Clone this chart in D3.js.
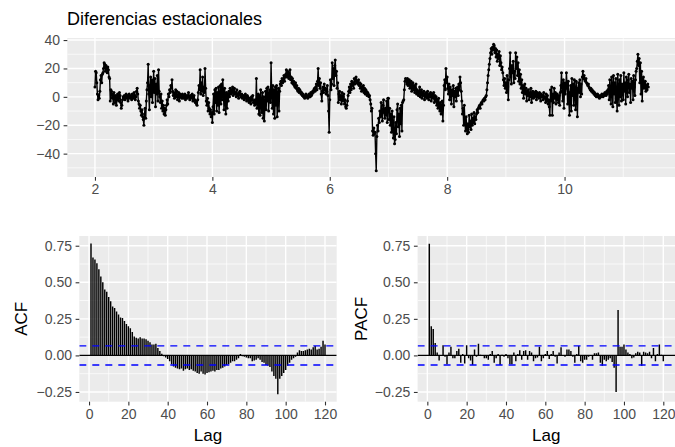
<!DOCTYPE html>
<html>
<head>
<meta charset="utf-8">
<script src="https://cdn.jsdelivr.net/npm/d3@7"></script>
<style>
  body { margin: 0; background: #ffffff; }
  svg { display: block; }
  text { font-family: "Liberation Sans", Arial, Helvetica, sans-serif; }
</style>
</head>
<body>
<svg id="chart" width="675" height="447"></svg>
<script>
// ---- data -------------------------------------------------------------
const titleText = "Diferencias estacionales";
const seriesStart = 2;
const seriesFrequency = 96;
const seriesValues = [
  7, 18, 17, 10, 2, -2, 1, -1, 4, 12, 15, 10, 16, 17, 20, 24, 23, 18, 22, 20, 17, 21, 19, 14,
  13, -3, 5, 4, -1, 2, -5, 3, 0, -4, 1, -6, -2, 2, 0, -3, 3, 1, -4, -8, -6, -2, 0, -1,
  1, -2, 0, 2, -1, 1, -3, 0, 2, -1, 0, 1, -2, 2, 0, -1, 3, 1, -2, 0, 4, 6, 2, -3,
  -5, -8, -6, -10, -13, -9, -14, -16, -20, -12, -8, -15, -3, 5, 10, 23, 2, -9, 8, 14, 0, 12, -4, 6,
  18, 3, 13, -7, 9, 2, 15, -3, 19, 4, 0, -4, 2, -8, -3, -10, -6, -12, -8, -13, -9, -6, -2, -5,
  2, 0, 5, 3, 8, 6, 12, 4, 1, 3, -1, 2, 5, 0, 4, -2, 1, 3, -3, 2, 0, 1, -1, 2,
  1, -1, 0, 2, -2, 1, 0, -1, 1, 3, 0, -2, 1, -1, 0, 2, -3, 0, 1, -2, -4, -3, -5, -6,
  -2, 3, 8, 5, 19, 2, 10, 4, 14, 1, 7, 3, 20, 6, -3, -6, -1, -10, -4, -8, -12, -9, -14, -11,
  -18, -7, 2, -12, 5, -4, 6, -10, 3, -6, 7, -11, 1, 8, -5, 9, -2, 12, 4, -9, 6, 0, -12, 3,
  -8, 2, -3, 4, 0, 6, 2, 5, 3, 7, 1, 4, 6, 2, 3, 0, 5, 1, 2, -1, 3, 4, 1, 0,
  2, -1, 0, 1, -2, 0, 2, -1, -3, 1, 0, -2, -4, -1, -3, -5, 0, -2, 1, -4, -3, -6, -2, -5,
  13, -8, -3, 2, -12, 1, -13, 5, -6, -11, 3, -15, 0, -17, -5, 4, -9, 6, -3, 7, -10, 2, 5, -4,
  24, 3, -8, 8, -12, 5, -15, 7, -6, 8, -14, 2, 6, -10, 4, 9, 11, 8, 13, 10, 12, 15, 11, 14,
  16, 19, 14, 18, 17, 13, 15, 19, 12, 14, 10, 13, 9, 11, 8, 7, 10, 6, 8, 5, 4, 6, 3, 5,
  4, 2, 3, 1, 2, 0, 1, -1, 0, 2, 0, 1, -1, 0, 2, 1, 0, 3, 1, 2, 4, 3, 5, 6,
  4, 7, 9, 5, 11, 20, 8, 13, 6, 10, 2, -3, 4, 7, 3, 9, 5, 6, 2, 4, 8, 1, -10, -25,
  -2, 12, 5, 9, 24, 13, 20, 8, 22, 26, 15, 18, 6, 10, -4, 2, 4, -2, 1, -5, 3, -3, 0, 2,
  -5, -2, -7, -8, -6, -3, 1, 4, 7, 3, 9, 5, 11, 8, 10, 6, 13, 9, 12, 14, 10, 11, 9, 12,
  8, 10, 6, 9, 4, 7, 5, 8, 3, 6, 2, 5, 4, 1, 3, 2, 0, 1, -2, -5, -10, -8, -24, -27,
  -22, -26, -25, -40, -52, -28, -20, -24, -15, -18, -10, -14, -4, -12, -17, -6, -2, -11, -15, -8, -13, -3, -18, -1,
  -1, -16, -8, -20, -12, -25, -10, -22, -29, -14, -33, -30, -18, -26, -9, -5, -21, -12, -28, -8, -19, -6, -24, -4,
  -3, -2, 5, 11, 13, 12, 9, 13, 8, 10, 12, 6, 9, 11, 4, 7, 10, 5, 8, 3, 6, 9, 2, 5,
  4, 1, 3, 7, 0, 2, 5, -1, 3, 1, 4, -2, 2, 0, 3, -1, 4, 1, -2, 2, 0, 3, -3, 1,
  2, -1, 3, -4, 1, -3, 0, -6, -2, -8, -1, -5, -10, -4, -12, -7, -3, -17, -6, 8, 12, 5, 20, 10,
  14, 6, 2, 9, -2, 7, 3, -5, 5, 1, 8, -7, 4, 0, 6, -3, 3, 7, 1, 9, 5, 14, 10, 4,
  -3, -12, -8, -20, -6, -18, -24, -14, -22, -26, -19, -25, -13, -21, -17, -23, -12, -20, -15, -18, -11, -19, -14, -16,
  -12, -9, -11, -8, -7, -6, -8, -5, -4, -5, -3, -2, -3, -1, -2, 0, 1, 5, 10, 15, 19, 23, 27, 31,
  34, 30, 35, 33, 37, 36, 31, 34, 28, 33, 25, 30, 27, 32, 22, 29, 24, 19, 21, 17, 12, 8, 13, 6,
  10, 3, 15, 7, -2, 12, 20, 31, 14, 9, 22, 17, 25, 10, 18, 13, 31, 20, 28, 15, 24, 11, 19, 9,
  16, 6, 12, 3, 8, -1, 5, 9, 2, 6, -3, 4, 1, 5, -2, 3, 0, 6, -4, 2, 4, -1, 3, 0,
  1, 4, -2, 3, 0, 2, -1, 3, 1, -3, 2, 0, 1, -2, 3, -1, 0, -4, 2, -3, 1, -5, -2, -7,
  -13, 5, -3, 7, -13, 2, -4, 6, -1, 3, -5, 0, 2, -2, -4, 1, -6, 3, 8, 17, 4, -3, 12, -8,
  10, 2, 6, 17, 9, -5, 11, -2, -13, 3, 8, -10, 13, 1, 9, -6, 12, 4, -9, 11, 2, -14, 6, 10,
  3, 12, 0, 9, 2, 14, 18, 13, 15, 12, 11, 13, 10, 9, 8, 9, 7, 6, 5, 6, 4, 5, 3, 4,
  2, 3, 1, 2, 0, 1, 2, 0, 1, -1, 0, 1, 0, 2, 1, 0, 2, 1, 3, 2, 1, 4, 2, 5,
  8, -2, 12, 3, -5, 14, 6, -7, 15, 2, 10, -4, 13, -1, -10, 16, 4, -6, 12, 0, 15, -3, 9, 5,
  -2, 17, 4, 10, -5, 14, 8, 0, 12, 16, 3, 9, -4, 13, 6, 11, -2, 15, 7, 1, 12, 18, 20, 25,
  30, 22, 27, 10, 24, 2, 18, -3, 12, 14, 6, 9, 11, 4, 8, 5, 9, 7
];

// autocorrelations for lags 1..120
const acfValues = [
  0.765, 0.67, 0.655, 0.63, 0.59, 0.54, 0.50, 0.45, 0.435, 0.40,
  0.37, 0.335, 0.325, 0.30, 0.28, 0.26, 0.255, 0.235, 0.215, 0.20,
  0.185, 0.16, 0.13, 0.12, 0.115, 0.125, 0.115, 0.115, 0.11, 0.10,
  0.09, 0.075, 0.075, 0.08, 0.05, 0.03, 0.012, -0.005, -0.015, -0.025,
  -0.04, -0.06, -0.075, -0.085, -0.09, -0.095, -0.09, -0.105, -0.095, -0.09,
  -0.10, -0.095, -0.105, -0.11, -0.12, -0.125, -0.11, -0.125, -0.13, -0.12,
  -0.115, -0.11, -0.105, -0.11, -0.10, -0.10, -0.09, -0.085, -0.075, -0.065,
  -0.06, -0.05, -0.04, -0.04, -0.03, -0.02, 0.01, -0.005, -0.01, -0.015,
  -0.02, -0.02, -0.04, -0.035, -0.03, -0.02, -0.03, -0.045, -0.05, -0.065,
  -0.07, -0.08, -0.11, -0.14, -0.16, -0.265, -0.16, -0.14, -0.12, -0.10,
  -0.07, -0.05, -0.03, -0.02, -0.01, 0.02, 0.035, 0.03, 0.03, 0.035,
  0.04, 0.045, 0.04, 0.055, 0.065, 0.04, 0.045, 0.06, 0.10, 0.075
];

// partial autocorrelations for lags 1..120
const pacfValues = [
  0.764, 0.20, 0.18, 0.085, 0.02, -0.035, 0.0, 0.07, -0.01, -0.06,
  0.02, 0.06, -0.02, -0.02, 0.03, 0.045, -0.05, 0.01, -0.055, 0.07,
  -0.02, -0.035, -0.065, 0.04, -0.01, 0.08, 0.005, 0.0, -0.02, -0.02,
  -0.03, 0.01, 0.03, -0.05, -0.02, 0.01, -0.065, 0.005, -0.01, 0.01,
  -0.02, -0.06, -0.06, 0.02, -0.04, 0.01, 0.035, -0.03, 0.03, 0.035,
  -0.03, 0.03, 0.02, -0.04, -0.02, -0.015, 0.06, -0.04, -0.02, 0.01,
  0.03, -0.025, 0.01, 0.03, -0.01, -0.055, 0.02, 0.055, 0.0, -0.01,
  0.04, 0.04, 0.03, -0.01, -0.05, 0.01, 0.065, -0.04, -0.05, -0.03,
  -0.03, -0.01, 0.0, -0.03, 0.015, 0.015, 0.02, -0.05, -0.07, -0.03,
  -0.04, -0.03, -0.02, -0.045, -0.085, -0.25, 0.31, 0.06, 0.06, 0.075,
  0.04, 0.02, 0.01, -0.02, -0.015, 0.015, 0.025, 0.02, -0.07, 0.025,
  0.02, 0.015, 0.025, -0.02, 0.05, -0.04, 0.01, 0.075, 0.005, -0.04
];

const timeTicks = [2, 4, 6, 8, 10];
const valueTicks = [-40, -20, 0, 20, 40];
const lagTicks = [0, 20, 40, 60, 80, 100, 120];
const corrTicks = [-0.25, 0, 0.25, 0.5, 0.75];
const acfTitle = "ACF";
const pacfTitle = "PACF";
const lagTitle = "Lag";

// ---- layout / style ----------------------------------------------------
const svg = d3.select("#chart");
const panelFill = "#EBEBEB";
const tickColor = "#333333";
const labelColor = "#4D4D4D";
const tickFont = 14;
const axisTitleFont = 17;

const topBox  = { x0: 67.3, x1: 676,   y0: 38,  y1: 177 };
const acfBox  = { x0: 79.3, x1: 336.7, y0: 236, y1: 401.7 };
const pacfBox = { x0: 417.6, x1: 675,  y0: 236, y1: 401.7 };

// 5% padding on each side of a continuous range
function expand(ext) {
  const pad = (ext[1] - ext[0]) * 0.05;
  return [ext[0] - pad, ext[1] + pad];
}

// midpoints between major breaks, plus one step beyond each end, kept inside the limits
function minorBreaks(major, domain) {
  const step = major[1] - major[0];
  const out = [];
  for (let v = major[0] - step / 2; v <= major[major.length - 1] + step / 2 + 1e-9; v += step) {
    if (v >= domain[0] && v <= domain[1]) out.push(v);
  }
  return out;
}

let clipCount = 0;
function drawPanel(box, xDomain, yDomain, xTicks, yTicks, xFmt, yFmt) {
  const x = d3.scaleLinear().domain(xDomain).range([box.x0, box.x1]);
  const y = d3.scaleLinear().domain(yDomain).range([box.y1, box.y0]);
  const g = svg.append("g");

  const clipId = "clip" + (clipCount++);
  svg.append("clipPath").attr("id", clipId)
    .append("rect")
    .attr("x", box.x0).attr("y", box.y0)
    .attr("width", box.x1 - box.x0).attr("height", box.y1 - box.y0);

  g.append("rect")
    .attr("x", box.x0).attr("y", box.y0)
    .attr("width", box.x1 - box.x0).attr("height", box.y1 - box.y0)
    .attr("fill", panelFill);

  const grid = g.append("g").attr("clip-path", `url(#${clipId})`);
  grid.selectAll("line.minx").data(minorBreaks(xTicks, xDomain)).join("line")
    .attr("x1", d => x(d)).attr("x2", d => x(d))
    .attr("y1", box.y0).attr("y2", box.y1)
    .attr("stroke", "#fff").attr("stroke-width", 0.7);
  grid.selectAll("line.miny").data(minorBreaks(yTicks, yDomain)).join("line")
    .attr("y1", d => y(d)).attr("y2", d => y(d))
    .attr("x1", box.x0).attr("x2", box.x1)
    .attr("stroke", "#fff").attr("stroke-width", 0.7);
  grid.selectAll("line.majx").data(xTicks).join("line")
    .attr("x1", d => x(d)).attr("x2", d => x(d))
    .attr("y1", box.y0).attr("y2", box.y1)
    .attr("stroke", "#fff").attr("stroke-width", 1.4);
  grid.selectAll("line.majy").data(yTicks).join("line")
    .attr("y1", d => y(d)).attr("y2", d => y(d))
    .attr("x1", box.x0).attr("x2", box.x1)
    .attr("stroke", "#fff").attr("stroke-width", 1.4);

  const xAxis = g.append("g").attr("transform", `translate(0,${box.y1})`)
    .call(d3.axisBottom(x).tickValues(xTicks).tickFormat(xFmt)
      .tickSize(3.7).tickSizeOuter(0).tickPadding(3.4));
  const yAxis = g.append("g").attr("transform", `translate(${box.x0},0)`)
    .call(d3.axisLeft(y).tickValues(yTicks).tickFormat(yFmt)
      .tickSize(3.7).tickSizeOuter(0).tickPadding(3.6));
  [xAxis, yAxis].forEach(a => {
    a.select(".domain").remove();
    a.selectAll(".tick line").attr("stroke", tickColor).attr("stroke-width", 1.1);
    a.selectAll(".tick text").attr("fill", labelColor)
      .style("font-size", tickFont + "px")
      .style("font-family", '"Liberation Sans", Arial, Helvetica, sans-serif');
  });

  const plot = g.append("g").attr("clip-path", `url(#${clipId})`);
  return { x, y, plot };
}

// ---- title ---------------------------------------------------------------
svg.append("text")
  .attr("x", 67).attr("y", 25)
  .style("font-size", "18px")
  .attr("fill", "#000")
  .text(titleText);

// ---- time series panel -------------------------------------------------
const timeOf = i => seriesStart + i / seriesFrequency;
const tsX = expand([timeOf(0), timeOf(seriesValues.length - 1)]);
const tsY = expand(d3.extent(seriesValues));
const ts = drawPanel(topBox, tsX, tsY, timeTicks, valueTicks, d3.format("d"), d3.format("d"));

ts.plot.append("path")
  .datum(seriesValues)
  .attr("fill", "none")
  .attr("stroke", "#000")
  .attr("stroke-width", 1.4)
  .attr("stroke-linejoin", "round")
  .attr("d", d3.line().x((d, i) => ts.x(timeOf(i))).y(d => ts.y(d)));

ts.plot.selectAll("circle").data(seriesValues).join("circle")
  .attr("cx", (d, i) => ts.x(timeOf(i)))
  .attr("cy", d => ts.y(d))
  .attr("r", 1.5)
  .attr("fill", "#000");

// ---- correlogram panels (shared y range) -------------------------------
const corrY = expand(d3.extent([...acfValues, ...pacfValues, 0]));
const lagX = expand([1, acfValues.length]);
const ciLimit = 1.96 / Math.sqrt(seriesValues.length);

function drawCorrelogram(box, values, title, titleX) {
  const p = drawPanel(box, lagX, corrY, lagTicks, corrTicks, d3.format("d"), d3.format(".2f"));

  p.plot.append("line")
    .attr("x1", box.x0).attr("x2", box.x1)
    .attr("y1", p.y(0)).attr("y2", p.y(0))
    .attr("stroke", "#000").attr("stroke-width", 1.4);

  p.plot.selectAll("line.bar").data(values).join("line")
    .attr("class", "bar")
    .attr("x1", (d, i) => p.x(i + 1)).attr("x2", (d, i) => p.x(i + 1))
    .attr("y1", p.y(0)).attr("y2", d => p.y(d))
    .attr("stroke", "#000").attr("stroke-width", 1.45);

  p.plot.selectAll("line.ci").data([ciLimit, -ciLimit]).join("line")
    .attr("class", "ci")
    .attr("x1", box.x0).attr("x2", box.x1)
    .attr("y1", d => p.y(d)).attr("y2", d => p.y(d))
    .attr("stroke", "#0000FF").attr("stroke-width", 1.4)
    .attr("stroke-dasharray", "7,6");

  svg.append("text")
    .attr("x", (box.x0 + box.x1) / 2).attr("y", 441)
    .attr("text-anchor", "middle")
    .style("font-size", axisTitleFont + "px")
    .attr("fill", "#000")
    .text(lagTitle);

  svg.append("text")
    .attr("transform", `translate(${titleX},${(box.y0 + box.y1) / 2}) rotate(-90)`)
    .attr("text-anchor", "middle")
    .style("font-size", axisTitleFont + "px")
    .attr("fill", "#000")
    .text(title);
}

drawCorrelogram(acfBox, acfValues, acfTitle, 27.3);
drawCorrelogram(pacfBox, pacfValues, pacfTitle, 366.7);
</script>
</body>
</html>
